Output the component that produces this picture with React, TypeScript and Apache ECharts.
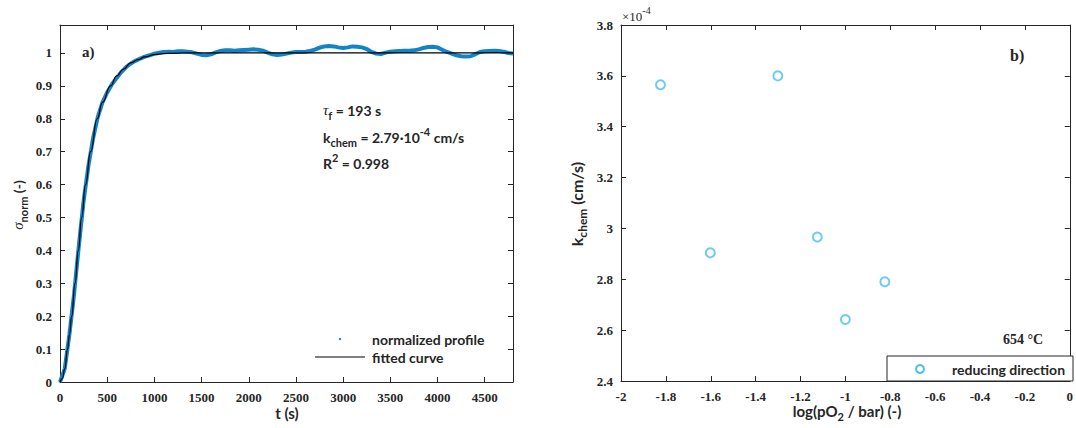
import React, { useEffect, useRef } from "react";
import * as echarts from "echarts";

// ---- Panel a) normalized conductivity profile ----
const profileTime = [
  0, 50, 100, 150, 200, 250, 300, 350, 400, 450, 500, 550, 600, 650, 700, 750, 800, 850, 900, 950,
  1000, 1050, 1100, 1150, 1200, 1250, 1300, 1350, 1400, 1450, 1500, 1550, 1600, 1650, 1700, 1750,
  1800, 1850, 1900, 1950, 2000, 2050, 2100, 2150, 2200, 2250, 2300, 2350, 2400, 2450, 2500, 2550,
  2600, 2650, 2700, 2750, 2800, 2850, 2900, 2950, 3000, 3050, 3100, 3150, 3200, 3250, 3300, 3350,
  3400, 3450, 3500, 3550, 3600, 3650, 3700, 3750, 3800, 3850, 3900, 3950, 4000, 4050, 4100, 4150,
  4200, 4250, 4300, 4350, 4400, 4450, 4500, 4550, 4600, 4650, 4700, 4750, 4800,
];
const profileValue = [
  0, 0.04, 0.145, 0.27, 0.415, 0.55, 0.655, 0.74, 0.805, 0.85, 0.88, 0.905, 0.924, 0.942, 0.957,
  0.968, 0.976, 0.983, 0.989, 0.993, 0.998, 1.001, 1.003, 1.004, 1.003, 1.005, 1.005, 1.004, 1.002,
  0.998, 0.994, 0.993, 0.996, 1.002, 1.006, 1.008, 1.008, 1.007, 1.008, 1.009, 1.01, 1.011, 1.01,
  1.007, 1.001, 0.996, 0.994, 0.995, 0.998, 1.001, 1.003, 1.003, 1.004, 1.006, 1.01, 1.016, 1.02,
  1.021, 1.02, 1.017, 1.015, 1.017, 1.02, 1.019, 1.017, 1.012, 1.003, 0.998, 0.997, 1.001, 1.004,
  1.005, 1.006, 1.007, 1.007, 1.008, 1.011, 1.015, 1.018, 1.019, 1.017, 1.01, 1.003, 0.998, 0.993,
  0.99, 0.989, 0.99, 0.996, 1.003, 1.005, 1.006, 1.007, 1.006, 1.004, 1.0, 0.998,
];
const fitTime = [0, 25, 50, 80, 100, 124, 159, 194, 229, 271, 324, 394, 450, 536, 600, 669, 750, 828, 900, 1004, 1100, 1200, 1350, 1500, 4800];
const fitValue = [0, 0.01, 0.04, 0.1, 0.145, 0.2, 0.3, 0.4, 0.5, 0.6, 0.7, 0.8, 0.85, 0.9, 0.93, 0.95, 0.97, 0.98, 0.988, 0.995, 0.998, 0.999, 1.0, 1.0, 1.0];

// ---- Panel b) k_chem vs log(pO2) (values in 1e-4 cm/s) ----
const logPO2 = [-1.824, -1.602, -1.301, -1.125, -1.0, -0.824];
const kChem = [3.565, 2.904, 3.6, 2.966, 2.642, 2.79];

const AX = "#262626";
const BLUE = "#1283c6";
const CYAN = "#4DBEEE";
const SERIF = "'Liberation Serif', 'DejaVu Serif', serif";
const SANS = "Lato, 'Noto Sans', sans-serif";

const tickLabel = { color: AX, fontFamily: SERIF, fontWeight: "bold" as const, fontSize: 13 };

function valAxis(extra: any) {
  return {
    type: "value",
    axisLine: { show: true, onZero: false, lineStyle: { color: AX, width: 1 } },
    axisTick: { show: true, inside: true, length: 5, lineStyle: { color: AX } },
    splitLine: { show: false },
    ...extra,
  };
}

const richSans = {
  m: { fontFamily: SANS, fontWeight: "bold", fontSize: 14, lineHeight: 22 },
  g: { fontFamily: SERIF, fontStyle: "italic", fontSize: 15, lineHeight: 22 },
  s: { fontFamily: SANS, fontWeight: "bold", fontSize: 11, lineHeight: 10, verticalAlign: "bottom" },
  u: { fontFamily: SANS, fontWeight: "bold", fontSize: 11, lineHeight: 10, verticalAlign: "top" },
};
const richSansBig = {
  m: { fontFamily: SANS, fontWeight: "bold", fontSize: 16, lineHeight: 24 },
  s: { fontFamily: SANS, fontWeight: "bold", fontSize: 12, lineHeight: 10, verticalAlign: "bottom" },
};
const richTitle = {
  m: { fontFamily: SANS, fontWeight: "bold", fontSize: 15, lineHeight: 22 },
  s: { fontFamily: SANS, fontWeight: "bold", fontSize: 11, lineHeight: 10, verticalAlign: "bottom" },
};
const richSerif = {
  m: { fontFamily: SERIF, fontWeight: "bold", fontSize: 15, lineHeight: 22 },
  s: { fontFamily: SERIF, fontWeight: "bold", fontSize: 11, lineHeight: 10, verticalAlign: "bottom" },
  u: { fontFamily: SERIF, fontSize: 10, lineHeight: 10, verticalAlign: "top" },
  n: { fontFamily: SERIF, fontSize: 13, lineHeight: 22 },
};

function txt(x: number, y: number, text: string, rich: any, align = "left", extra: any = {}) {
  return {
    type: "text",
    x,
    y,
    z: 100,
    ...extra,
    style: { text, rich, fill: AX, align, verticalAlign: "middle", font: `bold 14px ${SANS}` },
  };
}

export default function App() {
  const ref = useRef<HTMLDivElement>(null);
  useEffect(() => {
    if (!ref.current) return;
    const chart = echarts.init(ref.current, undefined, { renderer: "svg" });
    const fmt1 = (v: number) => String(Math.round(v * 10) / 10);
    const fmt0 = (v: number) => String(Math.round(v));
    chart.setOption({
      animation: false,
      backgroundColor: "#ffffff",
      grid: [
        { left: 60, right: 563, top: 25, bottom: 46, containLabel: false },
        { left: 621, right: 3, top: 25, bottom: 47, containLabel: false },
      ],
      xAxis: [
        valAxis({ gridIndex: 0, min: 0, max: 4800, interval: 500, position: "bottom",
          axisLabel: { ...tickLabel, margin: 9, showMaxLabel: false, formatter: fmt0 } }),
        valAxis({ gridIndex: 0, min: 0, max: 4800, interval: 500, position: "top", axisLabel: { show: false } }),
        valAxis({ gridIndex: 1, min: -2, max: 0, interval: 0.2, position: "bottom",
          axisLabel: { ...tickLabel, margin: 9, formatter: fmt1 } }),
        valAxis({ gridIndex: 1, min: -2, max: 0, interval: 0.2, position: "top", axisLabel: { show: false } }),
      ],
      yAxis: [
        valAxis({ gridIndex: 0, min: 0, max: 1.085, interval: 0.1, position: "left",
          axisLabel: { ...tickLabel, margin: 8, showMaxLabel: false, formatter: fmt1 } }),
        valAxis({ gridIndex: 0, min: 0, max: 1.085, interval: 0.1, position: "right", axisLabel: { show: false } }),
        valAxis({ gridIndex: 1, min: 2.4, max: 3.8, interval: 0.2, position: "left",
          axisLabel: { ...tickLabel, margin: 8, formatter: fmt1 } }),
        valAxis({ gridIndex: 1, min: 2.4, max: 3.8, interval: 0.2, position: "right", axisLabel: { show: false } }),
      ],
      series: [
        {
          name: "normalized profile",
          type: "line",
          xAxisIndex: 0,
          yAxisIndex: 0,
          data: profileTime.map((t, i) => [t, profileValue[i]]),
          showSymbol: false,
          smooth: false,
          lineStyle: { color: BLUE, width: 4 },
          z: 2,
        },
        {
          name: "fitted curve",
          type: "line",
          xAxisIndex: 0,
          yAxisIndex: 0,
          data: fitTime.map((t, i) => [t, fitValue[i]]),
          showSymbol: false,
          smooth: true,
          smoothMonotone: "x",
          lineStyle: { color: "#000000", width: 1.2 },
          z: 3,
        },
        {
          name: "reducing direction",
          type: "scatter",
          xAxisIndex: 2,
          yAxisIndex: 2,
          data: logPO2.map((x, i) => [x, kChem[i]]),
          symbol: "circle",
          symbolSize: 9,
          itemStyle: { color: "#ffffff", borderColor: CYAN, borderWidth: 2 },
          z: 3,
        },
      ],
      graphic: [
        // panel a annotations
        txt(82, 52, "{m|a)}", richSerif),
        txt(323, 110, "{g|τ}{s|f}{m| = 193 s}", richSans),
        txt(323, 137, "{m|k}{s|chem}{m| = 2.79·10}{u|-4}{m| cm/s}", richSans),
        txt(323, 163, "{m|R}{u|2}{m| = 0.998}", richSans),
        // panel a legend
        { type: "circle", z: 100, shape: { cx: 340, cy: 339, r: 1.2 }, style: { fill: BLUE } },
        { type: "line", z: 100, shape: { x1: 315, y1: 357, x2: 365, y2: 357 }, style: { stroke: "#000", lineWidth: 1.2 } },
        txt(372, 339, "{m|normalized profile}", richSans),
        txt(372, 357, "{m|fitted curve}", richSans),
        // axis titles panel a
        txt(287, 413, "{m|t (s)}", richTitle, "center"),
        txt(18, 205, "{g|σ}{s|norm}{m| (-)}", richSans, "center", { rotation: Math.PI / 2 }),
        // panel b annotations
        txt(622, 16, "{n|×10}{u|-4}", richSerif),
        txt(1010, 55, "{m|b)}", { m: { ...richSerif.m, fontSize: 16 } }),
        txt(1003, 339, "{m|654 °C}", { m: { ...richSerif.m, fontSize: 14 } }),
        // panel b legend
        { type: "rect", z: 99, shape: { x: 887, y: 356, width: 186, height: 25 }, style: { fill: "#fff", stroke: AX, lineWidth: 1 } },
        { type: "circle", z: 100, shape: { cx: 920, cy: 369, r: 4 }, style: { fill: "#fff", stroke: CYAN, lineWidth: 2 } },
        txt(952, 369, "{m|reducing direction}", richSans),
        // axis titles panel b
        txt(847, 411, "{m|log(pO}{s|2}{m| / bar) (-)}", richTitle, "center"),
        txt(576, 204, "{m|k}{s|chem}{m| (cm/s)}", richSansBig, "center", { rotation: Math.PI / 2 }),
      ],
    });
    return () => chart.dispose();
  }, []);
  return (
    <div
      ref={ref}
      style={{ position: "absolute", left: 0, top: 0, width: 1076, height: 428, background: "#fff" }}
    />
  );
}
